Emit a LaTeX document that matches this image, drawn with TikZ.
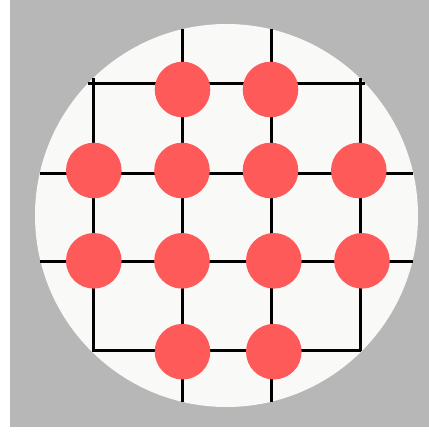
\documentclass[tikz,border=0pt]{standalone}
\definecolor{bggray}{HTML}{B6B7B6}
\definecolor{disc}{HTML}{F9F9F7}
\definecolor{dotred}{HTML}{FF5A5A}
\begin{document}
\begin{tikzpicture}[x=1pt,y=-1pt,
  gridline/.style={line width=3pt,black},
  dot/.style={circle,fill=dotred,inner sep=0pt,minimum size=55.6pt}]
\useasboundingbox (0,0) rectangle (429,432);
\fill[white] (0,0) rectangle (429,432);
\fill[bggray] (10,0) rectangle (429,427);
\fill[disc] (226.5,215.5) circle[radius=191.5];
% grid
\draw[gridline] (93,78) -- (93,351);
\draw[gridline] (360,78) -- (360,351);
\draw[gridline] (182,29) -- (182,402);
\draw[gridline] (271,29) -- (271,402);
\draw[gridline] (88,83) -- (365,83);
\draw[gridline] (40,173) -- (413,173);
\draw[gridline] (40,261) -- (413,261);
\draw[gridline] (92,350) -- (361,350);
% dots
\node[dot] (a1) at (182.5,89.5) {};
\node[dot] (a2) at (270.5,89.5) {};
\node[dot] (b1) at (93.8,170.5) {};
\node[dot] (b2) at (182,170.5) {};
\node[dot] (b3) at (270.5,170.5) {};
\node[dot] (b4) at (358.8,170.5) {};
\node[dot] (c1) at (93.8,260.8) {};
\node[dot] (c2) at (182,260.8) {};
\node[dot] (c3) at (273.8,260.8) {};
\node[dot] (c4) at (362,260.8) {};
\node[dot] (d1) at (182.5,351.7) {};
\node[dot] (d2) at (273.8,351.7) {};
\end{tikzpicture}
\end{document}
